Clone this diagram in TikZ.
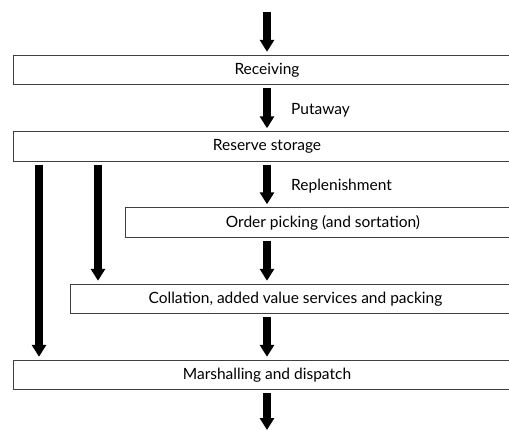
\documentclass[tikz,border=0pt]{standalone}
\usepackage{fontspec}
\setmainfont{Lato}
\usetikzlibrary{arrows.meta}

\begin{document}
\begin{tikzpicture}[x=1pt,y=-1pt,
  stage/.style={draw=black!75,line width=0.9pt,minimum height=29.5pt,inner sep=0pt,font=\fontsize{15.5}{18}\selectfont},
  flow/.style={line width=8.5pt,-{Triangle[length=12pt,width=14pt]},shorten >=3pt,shorten <=3pt},
  side/.style={anchor=west,inner sep=0pt,font=\fontsize{15.5}{18}\selectfont}]
  \clip (0,0) rectangle (509,430);
  \coordinate (mid) at (267,0);
  \coordinate (l1) at (39,0);
  \coordinate (l2) at (98,0);
  \coordinate (in) at (267,9);
  \coordinate (out) at (267,433);
  \node[stage,minimum width=508pt] (rec) at (267,70) {Receiving};
  \node[stage,minimum width=508pt] (res) at (267,146.5) {Reserve storage};
  \node[stage,minimum width=396pt] (ord) at (323,222.5) {Order picking (and sortation)};
  \node[stage,minimum width=451pt] (col) at (295.5,299) {Collation, added value services and packing};
  \node[stage,minimum width=508pt] (mar) at (267,375) {Marshalling and dispatch};
  \node[side] (put) at (291,110) {Putaway};
  \node[side] (rep) at (291,186) {Replenishment};
  \draw[flow] (in) -- (rec.north);
  \draw[flow] (rec.south) -- (res.north);
  \draw[flow] (res.south) -- (ord.north -| mid);
  \draw[flow] (ord.south -| mid) -- (col.north -| mid);
  \draw[flow] (col.south -| mid) -- (mar.north);
  \draw[flow] (mar.south) -- (out);
  \draw[flow] (res.south -| l1) -- (mar.north -| l1);
  \draw[flow] (res.south -| l2) -- (col.north -| l2);
\end{tikzpicture}
\end{document}
